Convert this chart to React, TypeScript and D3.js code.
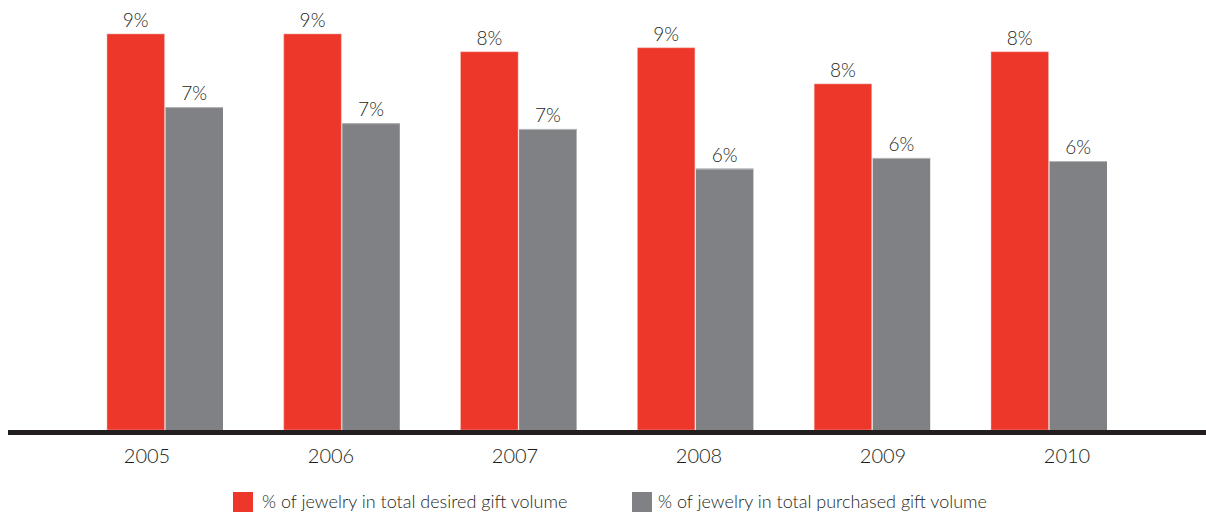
import React from "react";
import * as d3 from "d3";

const years = ["2005", "2006", "2007", "2008", "2009", "2010"];
const desired = [8.88, 8.88, 8.48, 8.57, 7.76, 8.48];
const purchased = [7.24, 6.88, 6.75, 5.86, 6.1, 6.03];
const seriesNames = [
  "% of jewelry in total desired gift volume",
  "% of jewelry in total purchased gift volume",
];
const seriesKeys = ["desired", "purchased"];
const colors = ["#ee372b", "#808185"];

const W = 1206;
const H = 513;
const FONT = "Lato, 'Open Sans', sans-serif";
const TEXT = "#231f20";

export default function App() {
  const baseY = 430;
  const y = d3.scaleLinear().domain([0, 9.5]).range([baseY, baseY - 9.5 * 44.6]);
  const x0 = d3.scaleBand<string>().domain(years).range([107, 1107]).paddingInner(0.344).paddingOuter(0);
  const x1 = d3.scaleBand<string>().domain(seriesKeys).range([0, x0.bandwidth()]).paddingInner(0.0172);
  const xl = d3.scalePoint<string>().domain(years).range([147, 1067]);
  const data = [desired, purchased];

  return (
    <svg width={W} height={H} style={{ position: "absolute", left: 0, top: 0, background: "#fff" }}>
      {years.map((yr, i) => (
        <g key={yr} transform={`translate(${x0(yr)},0)`}>
          {seriesKeys.map((k, s) => {
            const v = data[s][i];
            const bx = x1(k)!;
            const bw = x1.bandwidth();
            return (
              <g key={k}>
                <rect x={bx} y={y(v)} width={bw} height={baseY - y(v)} fill={colors[s]} stroke="#f3b8b3" strokeOpacity={s === 0 ? 0.6 : 0} strokeWidth={0.8} />
                {s === 1 && <rect x={bx} y={y(v)} width={bw} height={1} fill="#b5b6b8" />}
                <text x={bx + bw / 2} y={y(v) - 7} textAnchor="middle" fontFamily={FONT} fontWeight={300} fontSize={19} fill={TEXT}>
                  {Math.round(v)}%
                </text>
              </g>
            );
          })}
        </g>
      ))}
      <rect x={8} y={430} width={W - 8} height={5} fill="#231f20" />
      {years.map((yr) => (
        <text key={yr} x={xl(yr)} y={463} textAnchor="middle" fontFamily={FONT} fontWeight={300} fontSize={20} fill={TEXT}>
          {yr}
        </text>
      ))}
      {seriesNames.map((n, s) => {
        const lx = s === 0 ? 233 : 632;
        return (
          <g key={n}>
            <rect x={lx} y={492} width={20} height={20} fill={colors[s]} />
            <text x={lx + (s === 0 ? 29 : 26)} y={508} fontFamily={FONT} fontWeight={300} fontSize={18} fill={TEXT}>
              {n}
            </text>
          </g>
        );
      })}
    </svg>
  );
}
